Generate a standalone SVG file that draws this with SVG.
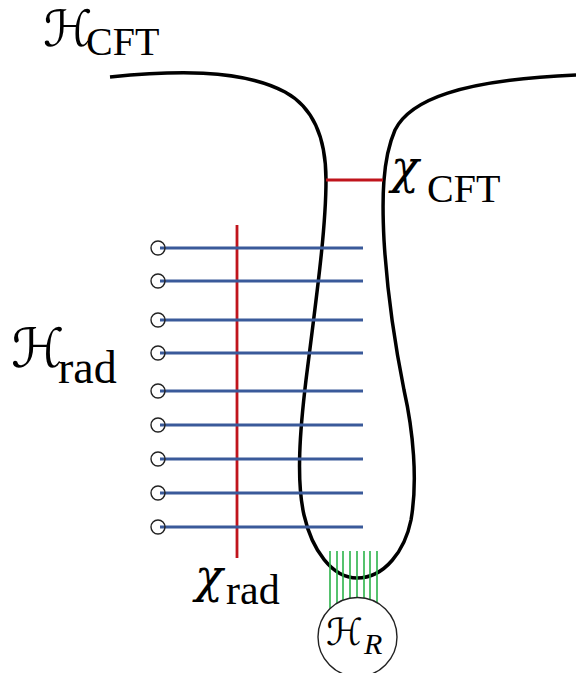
<svg xmlns="http://www.w3.org/2000/svg" width="576" height="673" viewBox="0 0 576 673">
<style>
.blue{stroke:#3a5a9a;stroke-width:3;fill:none}
.red{stroke:#c0141c;stroke-width:2.8;fill:none}
.grn{stroke:#2bb34a;stroke-width:1.6;fill:none}
.ring{stroke:#222;stroke-width:1.4;fill:#fff}
.lbl{font-family:"Liberation Serif","Times New Roman",serif;fill:#000}
.cal{font-family:"DejaVu Serif","DejaVu Sans",serif;font-style:italic;fill:#000}
.chi{font-family:"DejaVu Serif",serif;font-style:italic;fill:#000}
</style>
<rect width="576" height="673" fill="#fff"/>
<g id="connectors">
<path id="wormhole" d="M110,77 C170,71 240,68 285,92 C318,110 326,145 326,180 C326,230 316,300 306,380 C300,430 296,480 304,515 C312,550 332,578 357,578 C385,578 405,550 411,520 C418,480 413,430 404,390 C396,350 387,290 384,240 C382,200 382,160 395,130 C410,100 460,80 576,75" fill="none" stroke="#000" stroke-width="3.5"/>
<line class="red" x1="326" y1="180" x2="383" y2="180"/>
<line class="red" x1="237" y1="225" x2="237" y2="558"/>
<g id="rad-lines">
<line class="blue" x1="160" y1="248" x2="363" y2="248"/>
<line class="blue" x1="160" y1="281" x2="363" y2="281"/>
<line class="blue" x1="160" y1="320" x2="363" y2="320"/>
<line class="blue" x1="160" y1="353" x2="363" y2="353"/>
<line class="blue" x1="160" y1="391" x2="363" y2="391"/>
<line class="blue" x1="160" y1="425" x2="363" y2="425"/>
<line class="blue" x1="160" y1="459" x2="363" y2="459"/>
<line class="blue" x1="160" y1="493" x2="363" y2="493"/>
<line class="blue" x1="160" y1="527" x2="363" y2="527"/>
</g>
<g id="green-lines">
<line class="grn" x1="330" y1="551" x2="330" y2="608.5"/>
<line class="grn" x1="337" y1="551" x2="337" y2="603.2"/>
<line class="grn" x1="343" y1="551" x2="343" y2="600.3"/>
<line class="grn" x1="350" y1="551" x2="350" y2="598.2"/>
<line class="grn" x1="357" y1="551" x2="357" y2="597.5"/>
<line class="grn" x1="364" y1="551" x2="364" y2="598"/>
<line class="grn" x1="370" y1="551" x2="370" y2="599.5"/>
<line class="grn" x1="377" y1="551" x2="377" y2="602.6"/>
</g>
</g>
<g id="qubits" fill="none" stroke="#222" stroke-width="1.4">
<circle cx="158" cy="248" r="7"/>
<circle cx="158" cy="281" r="7"/>
<circle cx="158" cy="320" r="7"/>
<circle cx="158" cy="353" r="7"/>
<circle cx="158" cy="391" r="7"/>
<circle cx="158" cy="425" r="7"/>
<circle cx="158" cy="459" r="7"/>
<circle cx="158" cy="493" r="7"/>
<circle cx="158" cy="527" r="7"/>
</g>
<g id="HR">
<circle class="ring" cx="357.5" cy="637" r="39.5"/>
<text class="cal" x="326" y="645" font-size="37">ℋ</text>
<text class="lbl" x="364" y="654" font-size="30" font-style="italic">R</text>
</g>
<g id="label-HCFT">
<text class="cal" x="43" y="46" font-size="50">ℋ</text>
<text class="lbl" x="86" y="55" font-size="40">CFT</text>
</g>
<g id="label-Hrad">
<text class="cal" x="11" y="367" font-size="54">ℋ</text>
<text class="lbl" x="58" y="383" font-size="46">rad</text>
</g>
<g id="label-XCFT">
<text class="chi" x="391" y="183" font-size="46">χ</text>
<text class="lbl" x="427" y="202" font-size="40">CFT</text>
</g>
<g id="label-Xrad">
<text class="chi" x="195" y="592" font-size="46">χ</text>
<text class="lbl" x="226" y="604" font-size="42">rad</text>
</g>
</svg>
